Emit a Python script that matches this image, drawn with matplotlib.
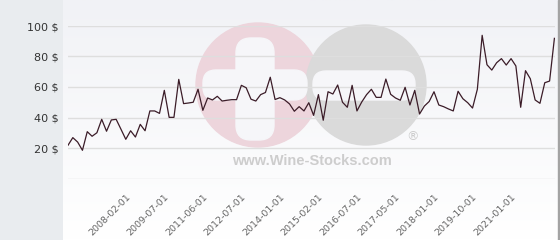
import numpy as np
import matplotlib
matplotlib.use("Agg")
import matplotlib.pyplot as plt
from matplotlib.patches import Circle, FancyBboxPatch, Rectangle

# ---- data ----
prices = [21.8, 26.8, 23.9, 18.5, 30.7, 27.7, 30.0, 38.8, 31.0, 38.4,
          38.8, 32.3, 25.7, 31.3, 27.2, 35.5, 31.3, 44.3, 44.3, 42.7,
          57.8, 40.1, 40.1, 65.0, 49.1, 49.5, 50.0, 58.5, 44.7, 52.8,
          51.5, 53.9, 50.8, 51.3, 51.7, 51.7, 61.1, 59.5, 52.0, 50.8,
          55.0, 56.4, 66.4, 51.8, 53.0, 51.5, 48.9, 44.1, 47.1, 44.3,
          49.7, 41.4, 55.0, 38.2, 56.9, 55.4, 61.3, 50.0, 46.7, 61.1,
          44.3, 50.2, 55.0, 58.5, 53.2, 53.2, 65.2, 55.2, 52.8, 51.3,
          59.8, 48.2, 57.8, 42.3, 47.5, 50.5, 56.9, 48.2, 47.1, 45.6,
          44.3, 57.2, 52.3, 49.7, 46.2, 58.5, 93.9, 74.6, 71.1, 75.9,
          78.6, 74.4, 78.6, 73.8, 46.7, 70.7, 65.4, 51.5, 49.3, 62.8,
          63.9, 91.9]
tick_labels = ["2008-02-01", "2009-07-01", "2011-06-01", "2012-07-01",
               "2014-01-01", "2015-02-01", "2016-07-01", "2017-05-01",
               "2018-01-01", "2019-10-01", "2021-01-01"]
tick_index = [12, 20, 28, 36, 44, 52, 60, 68, 76, 84, 92]
y_ticks = [20, 40, 60, 80, 100]

W, H = 560, 240
fig = plt.figure(figsize=(W / 100, H / 100), dpi=100)

# background / watermark axes in pixel coordinates
bg = fig.add_axes([0, 0, 1, 1])
bg.set_xlim(0, W)
bg.set_ylim(H, 0)
bg.axis("off")
bg.add_patch(Rectangle((0, 0), 63, H, color="#e9ecef", zorder=0))
grad = np.linspace(0, 1, 100).reshape(-1, 1)
cmap = matplotlib.colors.LinearSegmentedColormap.from_list("g", ["#f1f2f6", "#ffffff"])
bg.imshow(grad, extent=(63, 558, H, 0), cmap=cmap, aspect="auto", zorder=0.5)
bg.set_xlim(0, W)
bg.set_ylim(H, 0)
bg.add_patch(Rectangle((558, 0), 2, H, color="#a3a3a3", zorder=1))

pink = "#edd5dc"
grey = "#dadada"
bg.add_patch(Circle((258, 85), 62, color=pink, zorder=1))
bg.add_patch(Circle((366, 85), 60, color=grey, zorder=1))
white = "#f6f6f9"
bg.add_patch(FancyBboxPatch((236, 38), 38, 102, boxstyle="round,pad=0,rounding_size=15",
                            color=white, zorder=2))
bg.add_patch(FancyBboxPatch((203, 70), 104, 30, boxstyle="round,pad=0,rounding_size=13",
                            color=white, zorder=2))
bg.add_patch(FancyBboxPatch((313, 71), 102, 29, boxstyle="round,pad=0,rounding_size=13",
                            color=white, zorder=2))
bg.text(312, 161, "www.Wine-Stocks.com", family="Liberation Sans", weight="bold",
        fontsize=10.5, color="#cdcdcd", ha="center", va="center", zorder=2)
bg.text(413, 137, "®", family="DejaVu Sans", fontsize=9, color="#cccccc",
        ha="center", va="center", zorder=2)

# data axes
x0, x1 = 68, 555
ytop, ybot = 26, 178.5
ax = fig.add_axes([x0 / W, 1 - ybot / H, (x1 - x0) / W, (ybot - ytop) / H])
ax.patch.set_alpha(0)
for s in ax.spines.values():
    s.set_visible(False)
idx = np.arange(len(prices))
ax.set_xlim(0, (x1 - x0) / ((554.4 - 68) / (len(prices) - 1)))
ax.set_ylim(0, 100)
for v in [0] + y_ticks:
    ax.axhline(v, color="#dedede", lw=1, zorder=1)
ax.plot(idx, prices, color="#3b1c28", lw=0.9, zorder=3)

ax.set_yticks(y_ticks)
ax.set_yticklabels([f"{v} $" for v in y_ticks], fontsize=8, color="#333333")
ax.tick_params(axis="y", length=0, pad=7)
ax.set_xticks(tick_index)
ax.set_xticklabels(tick_labels, rotation=45, ha="right", va="top",
                   rotation_mode="anchor", fontsize=6.8, color="#666666")
ax.tick_params(axis="x", length=0, pad=10)

fig.savefig("out.png", dpi=100)
